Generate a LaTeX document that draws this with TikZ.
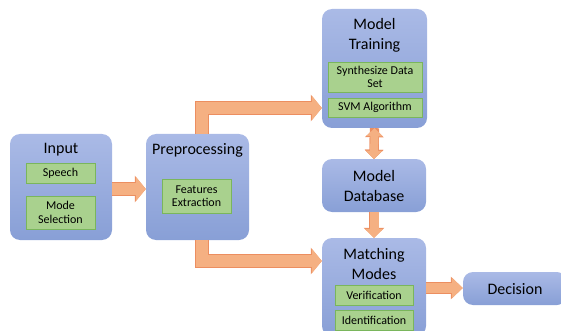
\documentclass[tikz,border=0pt]{standalone}
\usepackage{fontspec}
\setmainfont{Carlito}
\usetikzlibrary{positioning, arrows.meta}
\definecolor{stageTop}{RGB}{170,186,230}
\definecolor{stageBot}{RGB}{136,159,214}
\definecolor{subFill}{RGB}{169,209,142}
\definecolor{subLine}{RGB}{122,182,92}
\definecolor{flowFill}{RGB}{245,176,130}
\definecolor{flowLine}{RGB}{236,142,96}

\begin{document}
\begin{tikzpicture}[x=1pt, y=-1pt,
  stage/.style 2 args={rounded corners=10pt, top color=stageTop, bottom color=stageBot,
    minimum width=#1, minimum height=#2, inner sep=0pt},
  sub/.style 2 args={draw=subLine, fill=subFill, minimum width=#1, minimum height=#2,
    inner sep=0pt, align=center, font=\fontsize{12}{13.5}\selectfont},
  ttl/.style={align=center, inner sep=0pt, font=\fontsize{16}{19.5}\selectfont},
  flow/.style 2 args={line width=#1, color=flowFill, line join=miter,
    -{Triangle[length=#2, width=2*#1]},
    preaction={draw=flowLine, line width=#1+1.2pt, -{Triangle[length=#2+1pt, width=2*#1+2pt]}}}]
  \useasboundingbox (0,0) rectangle (561,331);

  % stages
  \node[stage={102pt}{106pt}] (in) at (61,187) {};
  \node[stage={103pt}{106pt}] (pre) at (197.5,187) {};
  \node[stage={105pt}{119pt}] (train) at (374.5,68.5) {};
  \node[stage={104pt}{53pt}] (db) at (374,185.5) {};
  \node[stage={104pt}{98pt}] (match) at (374,287) {};
  \node[stage={104pt}{33pt}] (dec) at (515,288.5) {};

  % titles
  \node[ttl] (inT) at (61,150) {Input};
  \node[ttl] (preT) at (197.5,150) {Preprocessing};
  \node[ttl] (trainT) at (374.5,35.5) {Model\\Training};
  \node[ttl] (dbT) at (374,186) {Model\\Database};
  \node[ttl] (matchT) at (374,264) {Matching\\Modes};
  \node[ttl] (decT) at (515,289) {Decision};

  % inner steps
  \node[sub={69pt}{20pt}] (speech) at (60.5,173) {Speech};
  \node[sub={69pt}{33pt}] (mode) at (60.5,212.5) {Mode\\Selection};
  \node[sub={69pt}{34pt}] (feat) at (196.5,196) {Features\\Extraction};
  \node[sub={94pt}{30pt}] (synth) at (375,77) {Synthesize Data\\Set};
  \node[sub={94pt}{19pt}] (svm) at (375,107.5) {SVM Algorithm};
  \node[sub={78pt}{20pt}] (verif) at (374,295) {Verification};
  \node[sub={78pt}{20pt}] (ident) at (374,320) {Identification};

  % flow
  \coordinate (up) at (202,108);
  \coordinate (down) at (202,261);
  \draw[flow={12pt}{10pt}] (in.east |- 0,189) -- (pre.west |- 0,189);
  \draw[flow={12pt}{10pt}] (pre.north -| up) |- (train.west |- up);
  \draw[flow={12pt}{10pt}] (pre.south -| down) |- (match.west |- down);
  \draw[flow={8pt}{8pt}, {Triangle[length=8pt, width=16pt]}-{Triangle[length=8pt, width=16pt]},
    preaction={draw=flowLine, line width=9.2pt, {Triangle[length=9pt, width=18pt]}-{Triangle[length=9pt, width=18pt]}}]
    (train.south) -- (db.north);
  \draw[flow={9pt}{9pt}] (db.south) -- (match.north);
  \draw[flow={10pt}{11pt}] (match.east |- 0,288) -- (dec.west |- 0,288);
\end{tikzpicture}
\end{document}
